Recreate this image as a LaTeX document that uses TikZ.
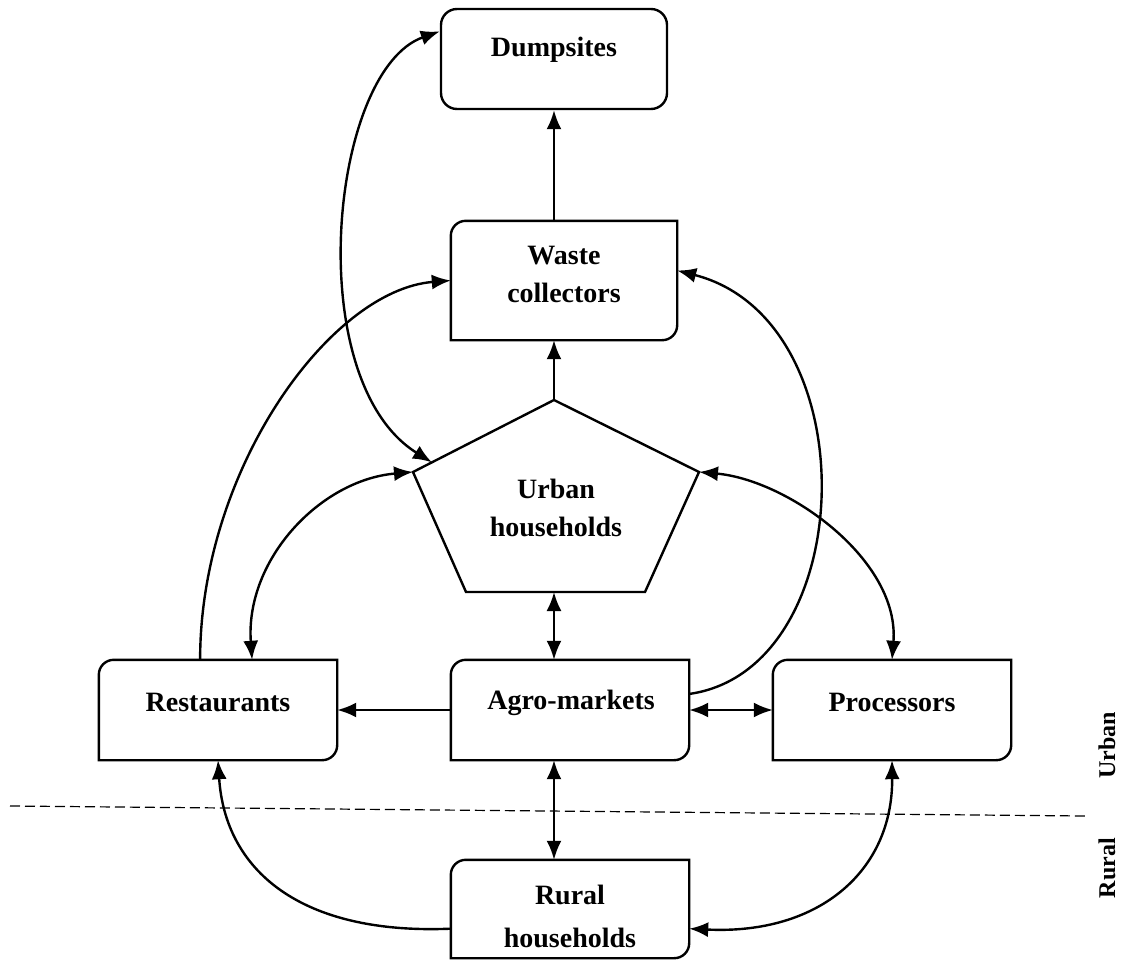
\documentclass[tikz,border=0pt]{standalone}
\usepackage{fontspec}
\setmainfont{Liberation Serif}
\usetikzlibrary{positioning, arrows.meta, calc}

\tikzset{
  wire/.style={line width=2.4pt},
  flow/.style={wire, -{Latex[length=19pt,width=15pt]}},
  twoway/.style={wire, {Latex[length=19pt,width=15pt]}-{Latex[length=19pt,width=15pt]}},
  card/.style={minimum width=238pt, minimum height=100pt, inner sep=0pt},
  lbl/.style={font=\bfseries\fontsize{28}{38}\selectfont, align=center, inner sep=0pt},
  zone/.style={font=\bfseries\fontsize{24}{28}\selectfont, rotate=90, inner sep=0pt},
}

% box with round top-left and bottom-right corners
\newcommand{\halfcard}[1]{%
  \draw[wire] ($(#1.north west)+(0,15)$) .. controls ($(#1.north west)+(0,6.7)$) and ($(#1.north west)+(6.7,0)$) .. ($(#1.north west)+(15,0)$)
    -- (#1.north east) -- ($(#1.south east)+(0,-15)$) .. controls ($(#1.south east)+(0,-6.7)$) and ($(#1.south east)+(-6.7,0)$) .. ($(#1.south east)+(-15,0)$)
    -- (#1.south west) -- cycle;}

\begin{document}
\begin{tikzpicture}[x=1pt,y=-1pt]
  \useasboundingbox (0,0) rectangle (1125,961);

  % boxes
  \node[card, minimum width=226pt, draw, wire, rounded corners=16pt] (dump) at (554,59) {};
  \node[card, minimum width=226pt, minimum height=119pt] (waste) at (564,280.5) {};
  \node[card] (rest) at (218,710) {};
  \node[card] (agro) at (570,710) {};
  \node[card] (proc) at (892,710) {};
  \node[card, minimum height=98pt] (rural) at (570,909) {};
  \halfcard{waste}
  \halfcard{rest}
  \halfcard{agro}
  \halfcard{proc}
  \halfcard{rural}

  % urban households pentagon
  \coordinate (uh-t) at (554,400);
  \coordinate (uh-l) at (413,472);
  \coordinate (uh-r) at (699,472);
  \coordinate (uh-bl) at (466,592);
  \coordinate (uh-br) at (645,592);
  \coordinate (uh-b) at (554,592);
  \draw[wire, line join=miter] (uh-t) -- (uh-r) -- (uh-br) -- (uh-bl) -- (uh-l) -- cycle;

  % texts
  \node[lbl] (dump-txt) at (554,50) {Dumpsites};
  \node[lbl] (waste-txt) at (564,274) {Waste\\collectors};
  \node[lbl] (uh-txt) at (556,508) {Urban\\households};
  \node[lbl] (rest-txt) at (218,702) {Restaurants};
  \node[lbl] (agro-txt) at (571,703) {Agro-markets};
  \node[lbl] (proc-txt) at (892,702) {Processors};
  \node[lbl, font=\bfseries\fontsize{28}{43}\selectfont] (rural-txt) at (570,916) {Rural\\households};

  % straight links
  \draw[flow] (dump.south |- waste.north) -- (dump.south);
  \draw[flow] (uh-t) -- (uh-t |- waste.south);
  \draw[twoway] (uh-b) -- (uh-t |- agro.north);
  \draw[twoway] (uh-t |- agro.south) -- (uh-t |- rural.north);
  \draw[flow] (agro.west) -- (rest.east);
  \draw[twoway] (agro.east) -- (proc.west);

  % curved links
  \coordinate (dump-l) at ($(dump.north west)!0.23!(dump.south west)$);
  \coordinate (uh-d) at ($(uh-l)!0.134!(uh-t)$);
  \draw[twoway] (dump-l) .. controls (330,70) and (300,380) .. (uh-d);

  \coordinate (rest-up) at ($(rest.north west)!0.425!(rest.north east)$);
  \draw[flow] (rest-up) .. controls (200,470) and (330,290) .. (waste.west);

  \coordinate (agro-r) at ($(agro.north east)!0.34!(agro.south east)$);
  \coordinate (waste-r) at ($(waste.east)+(0,-10)$);
  \draw[flow] (agro-r) .. controls (860,670) and (870,320) .. (waste-r);

  \coordinate (rest-in) at ($(rest.north west)!0.643!(rest.north east)$);
  \draw[twoway] (uh-l) .. controls (320,480) and (245,560) .. (rest-in);
  \draw[twoway] (uh-r) .. controls (788,480) and (900,560) .. (proc.north);

  \coordinate (rural-l) at ($(rural.north west)!0.7!(rural.south west)$);
  \coordinate (rural-r) at ($(rural.north east)!0.7!(rural.south east)$);
  \draw[flow] (rural-l) .. controls (300,935) and (225,870) .. (rest.south);
  \draw[twoway] (rural-r) .. controls (820,935) and (893,870) .. (proc.south);

  % urban / rural divide
  \coordinate (div-a) at (10,806);
  \coordinate (div-b) at (1085,816);
  \draw[line width=1.2pt, dash pattern=on 10pt off 5pt] (div-a) -- (div-b);
  \node[zone] (urban-lbl) at (1107,745) {Urban};
  \node[zone] (rural-lbl) at (1107,868) {Rural};
\end{tikzpicture}
\end{document}
